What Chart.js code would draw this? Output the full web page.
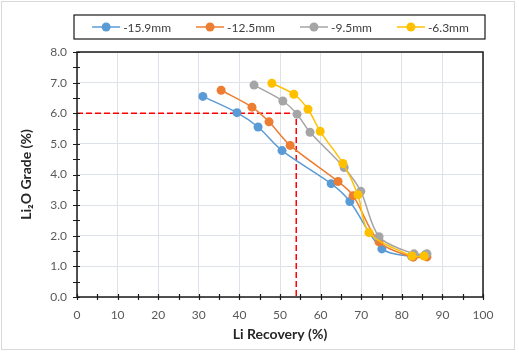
<!DOCTYPE html>
<html><head><meta charset="utf-8">
<script src="https://cdn.jsdelivr.net/npm/chart.js@4/dist/chart.umd.min.js"></script>
<style>html,body{margin:0;padding:0;background:#fff}</style>
</head><body>
<canvas id="c" width="519" height="353"></canvas>
<script>
// ---- data ----
const seriesLabels = ['-15.9mm', '-12.5mm', '-9.5mm', '-6.3mm'];
const recovery159 = [31.0, 39.4, 44.6, 50.5, 62.6, 67.2, 75.1, 82.4, 85.8];
const grade159    = [6.55, 6.02, 5.55, 4.78, 3.70, 3.12, 1.57, 1.33, 1.38];
const recovery125 = [35.5, 43.1, 47.3, 52.5, 64.3, 68.0, 74.4, 82.8, 86.2];
const grade125    = [6.75, 6.20, 5.72, 4.95, 3.77, 3.31, 1.80, 1.30, 1.31];
const recovery95  = [43.6, 50.7, 54.2, 57.4, 65.8, 69.9, 74.4, 83.0, 86.2];
const grade95     = [6.92, 6.40, 5.97, 5.38, 4.23, 3.45, 1.97, 1.41, 1.41];
const recovery63  = [48.0, 53.4, 56.9, 59.9, 65.5, 69.2, 71.9, 82.5, 85.5];
const grade63     = [6.98, 6.62, 6.13, 5.41, 4.36, 3.34, 2.10, 1.34, 1.34];
const cutoffRecovery = 54;
const cutoffGrade = 6.0;
const xTickLabels = ['0','10','20','30','40','50','60','70','80','90','100'];
const yTickLabels = ['0.0','1.0','2.0','3.0','4.0','5.0','6.0','7.0','8.0'];

const colors = ['#5b9bd5', '#ed7d31', '#a5a5a5', '#ffc000'];
const FONT = 'Lato, "Open Sans", sans-serif';

function pts(xs, ys) { return xs.map((x, i) => ({x: x, y: ys[i]})); }
const seriesData = [pts(recovery159, grade159), pts(recovery125, grade125), pts(recovery95, grade95), pts(recovery63, grade63)];

const datasets = seriesData.map((d, i) => ({
  label: seriesLabels[i], data: d,
  borderColor: colors[i], backgroundColor: colors[i],
  borderWidth: 1.5, pointRadius: 4.5, pointBorderWidth: 0,
  pointBackgroundColor: colors[i], tension: 0.3, order: 3 - i
}));
datasets.push({
  label: 'cutoff', data: [{x: 0, y: cutoffGrade}, {x: cutoffRecovery, y: cutoffGrade}, {x: cutoffRecovery, y: 0}],
  borderColor: '#ff0000', borderWidth: 1.5, borderDash: [6, 3], pointRadius: 0, tension: 0, order: 10
});

const framePlugin = {
  id: 'frame',
  beforeDraw(chart) {
    const ctx = chart.ctx;
    ctx.save();
    ctx.fillStyle = '#fff';
    ctx.fillRect(0, 0, chart.width, chart.height);
    ctx.strokeStyle = '#d9d9d9';
    ctx.lineWidth = 1;
    ctx.strokeRect(1.5, 1.5, 513, 348);
    ctx.restore();
  },
  afterDraw(chart) {
    const ctx = chart.ctx, a = chart.chartArea;
    const xs = chart.scales.x, ys = chart.scales.y;
    ctx.save();
    ctx.strokeStyle = '#1a1a1a';
    ctx.lineWidth = 1.5;
    ctx.strokeRect(a.left, a.top, a.right - a.left, a.bottom - a.top);
    ctx.lineWidth = 1.2;
    ctx.beginPath();
    for (let v = 0; v <= 100; v += 5) {
      const px = Math.round(xs.getPixelForValue(v)) + 0.5;
      ctx.moveTo(px, a.bottom - 3); ctx.lineTo(px, a.bottom + 3);
    }
    for (let v = 0; v <= 8.001; v += 0.5) {
      const py = Math.round(ys.getPixelForValue(v)) + 0.5;
      ctx.moveTo(a.left - 4, py); ctx.lineTo(a.left + 3, py);
    }
    ctx.stroke();
    // legend
    const bl = a.left - 3, br = a.right + 2, bt = 15, bb = 39;
    ctx.lineWidth = 1.2;
    ctx.strokeStyle = '#1a1a1a';
    ctx.strokeRect(bl, bt, br - bl, bb - bt);
    ctx.font = '12px ' + FONT;
    ctx.textBaseline = 'middle';
    const items = chart.data.datasets.slice(0, 4);
    const mW = 28, g1 = 3, gap = 25;
    const widths = items.map(d => mW + g1 + ctx.measureText(d.label).width);
    const total = widths.reduce((s, w) => s + w, 0) + gap * (items.length - 1);
    let x = (bl + br) / 2 - total / 2 + 1;
    const cy = 27;
    items.forEach((d, i) => {
      ctx.strokeStyle = d.borderColor; ctx.lineWidth = 1.5;
      ctx.beginPath(); ctx.moveTo(x, cy); ctx.lineTo(x + mW, cy); ctx.stroke();
      ctx.fillStyle = d.borderColor;
      ctx.beginPath(); ctx.arc(x + mW / 2, cy, 4.5, 0, Math.PI * 2); ctx.fill();
      ctx.fillStyle = '#404040';
      ctx.fillText(d.label, x + mW + g1, cy + 1);
      x += widths[i] + gap;
    });
    ctx.restore();
  }
};

new Chart(document.getElementById('c'), {
  type: 'line',
  data: { datasets: datasets },
  options: {
    responsive: false, animation: false, devicePixelRatio: 1,
    layout: { padding: { top: 52, right: 36, left: 0, bottom: 0 } },
    plugins: { legend: { display: false }, tooltip: { enabled: false } },
    scales: {
      x: {
        type: 'linear', min: 0, max: 100,
        grid: { color: '#dde2ea', lineWidth: 1, drawTicks: false },
        border: { display: false },
        ticks: { stepSize: 10, padding: 11, color: '#595959', font: { family: FONT, size: 12 },
          callback: (v) => xTickLabels[Math.round(v / 10)] },
        title: { display: true, text: 'Li Recovery (%)', color: '#262626',
          font: { family: FONT, size: 14, weight: 'bold' }, padding: { top: 0, bottom: 10 } },
        afterFit(s) { s.height = 56; }
      },
      y: {
        type: 'linear', min: 0, max: 8,
        grid: { color: '#dde2ea', lineWidth: 1, drawTicks: false },
        border: { display: false },
        ticks: { stepSize: 1, padding: 10, color: '#595959', font: { family: FONT, size: 12 },
          callback: (v) => yTickLabels[Math.round(v)] },
        title: { display: true, text: 'Li\u2082O Grade (%)', color: '#262626',
          font: { family: FONT, size: 14, weight: 'bold' }, padding: { top: 18, bottom: 0 } },
        afterFit(s) { s.width = 77; }
      }
    }
  },
  plugins: [framePlugin]
});
</script>
</body></html>
